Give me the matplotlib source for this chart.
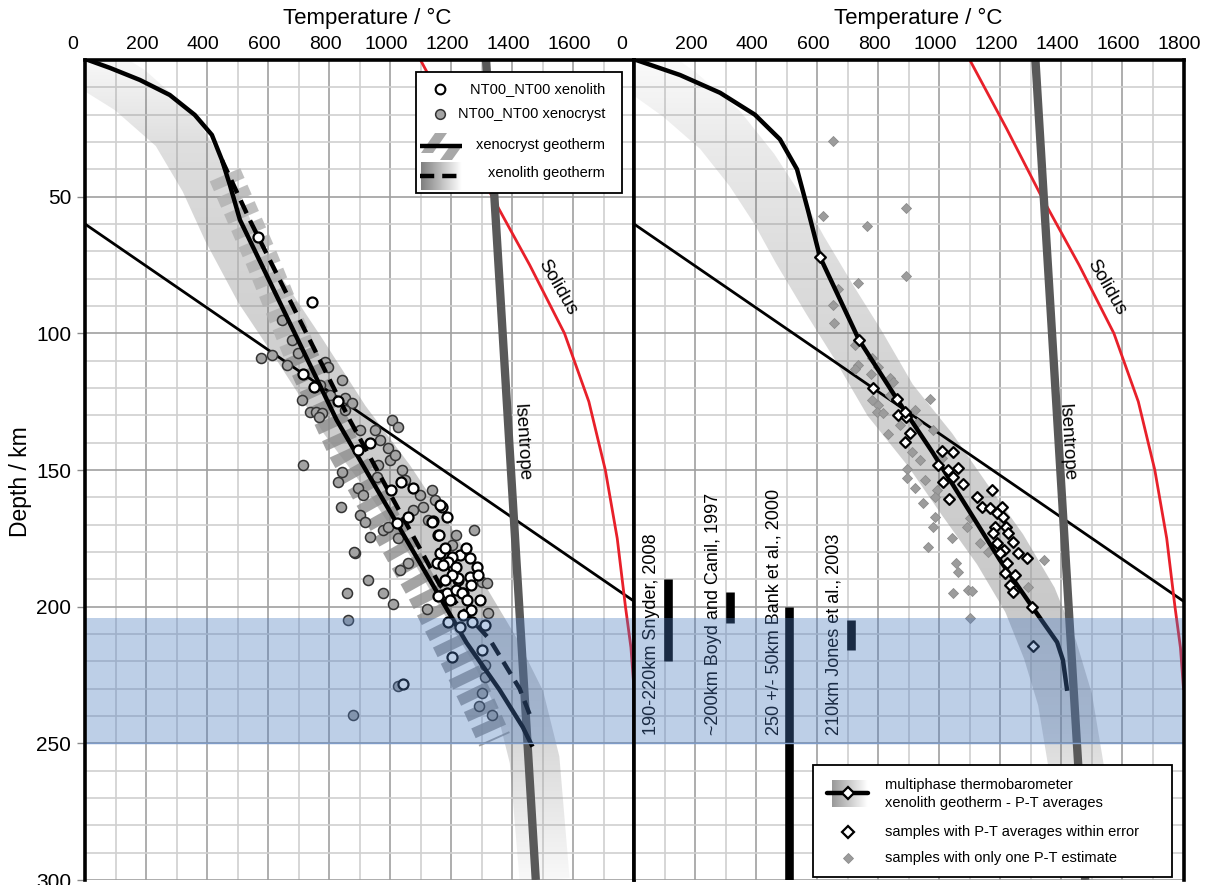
import numpy as np
import matplotlib
matplotlib.use("Agg")
import matplotlib.pyplot as plt
from matplotlib.transforms import Affine2D, ScaledTranslation
from matplotlib.patches import Rectangle, Polygon
from matplotlib.lines import Line2D

plt.rcParams['font.family'] = ['Liberation Sans', 'DejaVu Sans']

# ---------------------------------------------------------------- data
# temperatures in degC, depths in km
solidus_T = [1100, 1220, 1335, 1458, 1572, 1652, 1706, 1745, 1772, 1790, 1800]
solidus_d = [0, 25, 50, 75, 100, 125, 150, 175, 200, 215, 230]

isentrope_T = [1315, 1478]
isentrope_d = [0, 300]

gd_T = [0, 1800]
gd_d = [60, 198]

# left panel: geotherms
xcr_geo_T = [10, 82, 180, 278, 360, 416, 449, 475, 508, 825, 1163, 1251, 1359, 1435, 1464]
xcr_geo_d = [0, 2.9, 7.3, 12.8, 20.1, 27.4, 36.6, 45.7, 58.5, 131.7, 196.4, 213.2, 230.4, 244, 250.5]

xen_geo_T = [449, 540, 868, 1163, 1327, 1425, 1460]
xen_geo_d = [36.6, 58.5, 131.7, 192, 212, 230, 240]

# uncertainty envelopes (centre lines)
xcr_env_T = [459, 580, 704, 852, 1065, 1108, 1180, 1284, 1343]
xcr_env_d = [42, 73, 107, 143, 185.4, 194, 210, 234, 248.7]

xen_env_T = [0, 147, 295, 393, 468, 573, 704, 852, 999, 1130, 1245, 1343, 1425, 1474, 1507]
xen_env_d = [0.7, 11, 25.6, 43.9, 62.2, 84.1, 106, 131.7, 153.6, 175.6, 197.5, 215.8, 234, 256, 300]

# left panel: samples
xen_T = [567, 743, 714, 750, 829, 934, 894, 1035, 1074, 1002, 1058, 1022, 1140, 1156,
         1169, 1186, 1228, 1261, 1202, 1284, 1205, 1261, 1222, 1163, 1179, 1189, 1153,
         1169, 1186, 1218, 1238, 1173, 1218, 1222, 1264, 1294, 1156, 1196, 1235, 1251,
         1264, 1238, 1189, 1228, 1268, 1310, 1300, 1202, 1042, 1248, 1287, 1202, 1179,
         1163, 1137, 1160]
xen_d = [64.7, 88.5, 114.8, 119.6, 124.7, 140.1, 142.6, 154.4, 156.5, 157.3, 167.2,
         169.3, 168.6, 173.7, 163.5, 167.2, 181.1, 182.2, 181.8, 185.4, 185.4, 189.1,
         190.2, 180.3, 178.5, 183.6, 184.0, 195.7, 195.0, 193.9, 195.0, 184.7, 185.4,
         189.5, 192.0, 197.5, 196.0, 197.5, 195.0, 197.5, 201.2, 203.0, 205.6, 207.4,
         205.6, 206.7, 215.8, 218.4, 228.2, 178.5, 188.4, 188.4, 190.2, 162.8, 169.0,
         173.7]

xcr_T = [576, 613, 662, 645, 678, 698, 786, 796, 842, 852, 875, 711, 737, 757, 776, 766,
         1006, 1025, 842, 829, 894, 911, 839, 901, 917, 934, 884, 976, 992, 1025, 1058,
         1032, 927, 858, 976, 1107, 1218, 1277, 1038, 992, 999, 956, 960, 1074, 1300,
         1317, 714, 861, 1025, 878, 1009, 1120, 1320, 1310, 1313, 1300, 1291, 1333, 881,
         950, 966, 1015, 1048, 1097, 1123, 1146, 1202, 802, 770, 852, 901, 1137]
xcr_d = [109, 107.9, 111.6, 95.1, 102.4, 107.2, 110.5, 112.3, 117, 123.6, 125.5, 124.4,
         128.7, 128.7, 129.1, 130.6, 131.7, 134.2, 150.7, 154.4, 156.5, 159.1, 163.5,
         166.4, 169, 174.5, 180.3, 171.9, 170.8, 174.8, 184, 186.5, 190.2, 195, 195,
         163.5, 173.7, 171.9, 150, 141.9, 146.3, 152.5, 148.1, 164.6, 190.9, 191.3,
         148.1, 204.8, 229, 239.6, 199, 200.8, 202.3, 221.3, 225.7, 231.5, 236.3, 239.6,
         180, 135.3, 139, 144.5, 153.6, 159.1, 168.2, 161, 177.4, 122.5, 118.9, 128,
         135.3, 157.3]

# right panel: multiphase geotherm and envelope
mp_geo_T = [7, 151, 282, 396, 478, 534, 570, 609, 737, 861, 979, 1199, 1304, 1386, 1405, 1418]
mp_geo_d = [0, 5.5, 12, 20, 29, 40, 55, 72, 102.4, 124, 143.7, 183, 200, 213, 219.5, 230]

mp_env_T = [0, 151, 282, 386, 472, 544, 642, 734, 839, 970, 1084, 1199, 1297, 1363, 1412, 1461, 1500]
mp_env_d = [0.7, 12.8, 25.6, 40.2, 54.9, 69.5, 87.8, 104.2, 124.4, 142.6, 161, 179, 197.5,
            215.8, 234, 267, 300]

# right panel: P-T averages within error
avg_T = [609, 737, 783, 861, 865, 891, 888, 904, 888, 1009, 1045, 996, 1029, 1061, 1012,
         1045, 1078, 1032, 1123, 1173, 1140, 1166, 1205, 1189, 1209, 1182, 1218, 1176,
         1225, 1241, 1189, 1212, 1199, 1258, 1287, 1222, 1215, 1248, 1232, 1241, 1304, 1307]
avg_d = [72.1, 102.4, 120, 124, 129.8, 130.6, 128.7, 136.4, 139.7, 143, 143.4, 148.1, 150,
         149.2, 154.4, 152.5, 155.1, 160.6, 159.8, 157.3, 163.5, 163.9, 163.5, 165.7, 167.2,
         170.8, 170.8, 173, 173, 176.3, 176.7, 179.2, 180.3, 180.3, 182.2, 184, 187.6,
         188.4, 192, 194.6, 200, 214.3]

# right panel: single P-T estimates
one_T = [652, 619, 763, 891, 891, 734, 668, 652, 655, 724, 734, 724, 780, 799, 776, 839,
         848, 970, 780, 799, 796, 816, 911, 894, 894, 920, 953, 947, 986, 979, 963, 1042,
         1055, 1061, 1045, 1094, 1107, 1101, 1343, 1291, 1133, 1160, 1091, 1101, 992, 986,
         937, 927, 979, 1009, 839, 871, 920, 832]
one_d = [29.6, 57, 60.7, 54.1, 79, 81.6, 83.8, 89.6, 96.2, 104.2, 111.6, 113, 109, 112.3,
         114.8, 116.3, 117.8, 124, 124.4, 126.2, 128.7, 129.1, 143.4, 149.6, 152.9, 156.5,
         153.6, 162, 167.2, 170.8, 178.1, 174.8, 184, 187.3, 195, 193.9, 194.2, 204.1,
         182.9, 192.8, 176.7, 180, 170.8, 167.5, 157.3, 159.8, 146.3, 132.8, 135.3, 145.6,
         122.5, 133.5, 128, 137]

# seismic / petrological LAB estimates
lab_labels = ["190-220km Snyder, 2008", "~200km Boyd and Canil, 1997",
              "250 +/- 50km Bank et al., 2000", "210km Jones et al., 2003"]
lab_T = [110, 313, 508, 711]
lab_top = [190, 194.5, 200, 205]
lab_bot = [220, 206, 300, 216]
lab_text_T = [58, 259, 459, 655]

lab_zone = [204, 250]

# ---------------------------------------------------------------- figure
W, H = 1218, 885
fig = plt.figure(figsize=(W / 100, H / 100), dpi=100)
PX = Affine2D().scale(1 / W, -1 / H).translate(0, 1) + fig.transFigure


def px_box(x0, y0, x1, y1):
    return [x0 / W, 1 - y1 / H, (x1 - x0) / W, (y1 - y0) / H]


axL = fig.add_axes(px_box(85, 60, 634, 880))
axR = fig.add_axes(px_box(634, 60, 1183.5, 880))


def frame(ax, left):
    ax.set_xlim(0, 1800)
    ax.set_ylim(300, 0)
    ax.set_xticks(np.arange(0, 1801, 200))
    ax.set_xticks(np.arange(0, 1801, 100), minor=True)
    ax.set_yticks(np.arange(50, 301, 50))
    ax.set_yticks(np.arange(0, 301, 10), minor=True)
    ax.grid(which='major', color='#a0a0a0', lw=1.2)
    ax.grid(which='minor', color='#d0d0d0', lw=1.2)
    ax.set_axisbelow(True)
    ax.xaxis.tick_top()
    ax.tick_params(axis='x', which='both', length=0, labelsize=14, pad=5)
    ax.tick_params(axis='y', which='minor', length=0)
    if left:
        ax.set_xticklabels([str(v) for v in range(0, 1601, 200)] + [''])
        ax.tick_params(axis='y', which='major', length=6, width=1, color='#8a8a8a',
                       labelsize=15, pad=4)
    else:
        ax.set_xticklabels([str(v) for v in range(0, 1801, 200)])
        ax.tick_params(axis='y', which='major', length=0, labelleft=False)
    for lab in ax.get_xticklabels():
        shift = -12 if lab.get_text() == '0' else -4
        lab.set_transform(lab.get_transform() +
                          ScaledTranslation(shift / 100, 0, fig.dpi_scale_trans))
    for s in ('top', 'left', 'right'):
        ax.spines[s].set_linewidth(2.6)
        ax.spines[s].set_color('black')
        ax.spines[s].set_zorder(12)
    ax.spines['bottom'].set_visible(False)


def envelope(ax, T, d, width_px, a_depth, a_val, grey=0.5, z=1):
    """Shaded envelope around a P-T path, shade varying with depth."""
    pts = ax.transData.transform(np.column_stack([T, d]))
    tan = np.gradient(pts, axis=0)
    tan /= np.linalg.norm(tan, axis=1)[:, None]
    nrm = np.column_stack([-tan[:, 1], tan[:, 0]])
    outline = np.vstack([pts + nrm * width_px / 2, (pts - nrm * width_px / 2)[::-1]])
    poly = Polygon(ax.transData.inverted().transform(outline), closed=True,
                   facecolor='none', edgecolor='none')
    ax.add_patch(poly)
    depth = np.linspace(0, 300, 600)
    img = np.zeros((600, 1, 4))
    img[..., :3] = grey
    img[:, 0, 3] = np.interp(depth, a_depth, a_val)
    im = ax.imshow(img, extent=[0, 1800, 300, 0], aspect='auto', zorder=z,
                   interpolation='bilinear')
    im.set_clip_path(poly)


frame(axL, True)
frame(axR, False)

# ---------------- left panel
envelope(axL, xen_env_T, xen_env_d, 50, [0, 30, 60, 120, 200, 250, 300],
         [0.06, 0.25, 0.32, 0.38, 0.42, 0.3, 0.05])
hatch_kw = dict(lw=24, solid_capstyle='butt', dash_capstyle='butt', zorder=2)
axL.plot(xcr_env_T[:3], xcr_env_d[:3], color='#b0b0b0', alpha=0.8,
         ls=(0, (0.32, 0.22)), **hatch_kw)
axL.plot(xcr_env_T[2:], xcr_env_d[2:], color='#8e8e8e', alpha=0.8,
         ls=(0, (0.32, 0.22)), **hatch_kw)

for ax in (axL, axR):
    ax.plot(gd_T, gd_d, color='black', lw=2.0, zorder=3)
    ax.plot(solidus_T, solidus_d, color='#e8202a', lw=2.0, zorder=3)
    ax.plot(isentrope_T, isentrope_d, color='#595959', lw=6, solid_capstyle='butt', zorder=3)

axL.scatter(xcr_T, xcr_d, s=52, facecolor='#a3a3a3', edgecolor='#333333', lw=1.1, zorder=4)
axL.plot(xcr_geo_T, xcr_geo_d, color='black', lw=3.2, zorder=5, solid_joinstyle='round')
axL.plot(xen_geo_T, xen_geo_d, color='black', lw=3.2, zorder=5, ls=(0, (3.2, 1.8)),
         dash_capstyle='butt')
axL.scatter(xen_T, xen_d, s=52, facecolor='white', edgecolor='black', lw=1.6, zorder=6)

axL.text(1548, 83, 'Solidus', rotation=-60, ha='center', va='center', fontsize=13.5, zorder=7)
axL.text(1431, 140, 'Isentrope', rotation=-86.5, ha='center', va='center', fontsize=13.5, zorder=7)

# ---------------- right panel
envelope(axR, mp_env_T, mp_env_d, 55, [0, 30, 70, 130, 200, 240, 300],
         [0.04, 0.16, 0.26, 0.36, 0.42, 0.32, 0.05])
axR.scatter(one_T, one_d, s=26, marker='D', facecolor='#9c9c9c', edgecolor='#8c8c8c',
            lw=0.6, zorder=4)
axR.plot(mp_geo_T, mp_geo_d, color='black', lw=3.2, zorder=5, solid_joinstyle='round')
axR.scatter(avg_T, avg_d, s=30, marker='D', facecolor='white', edgecolor='black',
            lw=1.6, zorder=6)
axR.text(1548, 83, 'Solidus', rotation=-60, ha='center', va='center', fontsize=13.5, zorder=7)
axR.text(1416, 140, 'Isentrope', rotation=-86.5, ha='center', va='center', fontsize=13.5, zorder=7)

for t, t0, t1, tt, lbl in zip(lab_T, lab_top, lab_bot, lab_text_T, lab_labels):
    axR.plot([t, t], [t0, t1], color='black', lw=6.2, solid_capstyle='butt', zorder=7)
    axR.text(tt, 247, lbl, rotation=90, ha='center', va='bottom', fontsize=13, zorder=7)

for ax in (axL, axR):
    ax.axhspan(lab_zone[0], lab_zone[1], facecolor=(0.29, 0.48, 0.75), alpha=0.36,
               lw=0, zorder=8)
    ax.axhline(lab_zone[1], color='#7f9cc8', lw=1.0, zorder=8)
    ax.set_xlim(0, 1800)
    ax.set_ylim(300, 0)

# ---------------- axis titles
fig.text(367 / W, 1 - 18 / H, 'Temperature / °C', ha='center', va='center', fontsize=16)
fig.text(918 / W, 1 - 18 / H, 'Temperature / °C', ha='center', va='center', fontsize=16)
fig.text(21 / W, 1 - 482 / H, 'Depth / km', ha='center', va='center', rotation=90,
         fontsize=16.5)

# ---------------- left legend
fig.add_artist(Rectangle((416, 72), 206, 121, transform=PX, facecolor='white',
                         edgecolor='black', lw=1.3, zorder=11))
fig.add_artist(Line2D([440], [89], transform=PX, marker='o', ms=7, mfc='white',
                      mec='black', mew=1.5, zorder=13))
fig.add_artist(Line2D([440], [114], transform=PX, marker='o', ms=7, mfc='#a3a3a3',
                      mec='#333333', mew=1.1, zorder=13))
for pts in ([(421, 153), (433, 153), (447, 133), (435, 133)],
            [(440, 160), (452, 160), (462, 146), (450, 146)]):
    fig.add_artist(Polygon(pts, closed=True, transform=PX, facecolor='#a8a8a8',
                           edgecolor='none', zorder=12))
fig.add_artist(Line2D([420, 462], [145.5, 145.5], transform=PX, color='black', lw=3.2,
                      solid_capstyle='butt', zorder=13))
gax = fig.add_axes(px_box(421, 162, 461, 190), zorder=12)
gax.imshow(np.linspace(0.5, 1.0, 64)[None, :], cmap='gray', vmin=0, vmax=1,
           aspect='auto', interpolation='bilinear')
gax.axis('off')
fig.add_artist(Line2D([420, 462], [176, 176], transform=PX, color='black', lw=3.2,
                      ls=(0, (3.2, 1.8)), dash_capstyle='butt', zorder=13))
for y, txt in ((89, 'NT00_NT00 xenolith'), (114, 'NT00_NT00 xenocryst'),
               (145, 'xenocryst geotherm'), (173, 'xenolith geotherm')):
    fig.text(605 / W, 1 - y / H, txt, ha='right', va='center', fontsize=10.5, zorder=13)

# ---------------- right legend
fig.add_artist(Rectangle((813, 765), 359, 112, transform=PX, facecolor='white',
                         edgecolor='black', lw=1.3, zorder=11))
gax2 = fig.add_axes(px_box(832, 780, 868, 807), zorder=12)
gax2.imshow(np.linspace(0.6, 1.0, 64)[None, :], cmap='gray', vmin=0, vmax=1,
            aspect='auto', interpolation='bilinear')
gax2.axis('off')
fig.add_artist(Line2D([827, 868], [793, 793], transform=PX, color='black', lw=3.2,
                      solid_capstyle='round', zorder=13))
fig.add_artist(Line2D([848], [793], transform=PX, marker='D', ms=6.5, mfc='white',
                      mec='black', mew=1.6, zorder=14))
fig.add_artist(Line2D([848], [832], transform=PX, marker='D', ms=6.5, mfc='white',
                      mec='black', mew=1.6, zorder=13))
fig.add_artist(Line2D([848], [858], transform=PX, marker='D', ms=5, mfc='#9c9c9c',
                      mec='#8c8c8c', mew=0.6, zorder=13))
for y, txt in ((785, 'multiphase thermobarometer'),
               (803, 'xenolith geotherm - P-T averages'),
               (832, 'samples with P-T averages within error'),
               (858, 'samples with only one P-T estimate')):
    fig.text(885 / W, 1 - y / H, txt, ha='left', va='center', fontsize=10.5, zorder=13)

fig.savefig('out.png', dpi=100)
